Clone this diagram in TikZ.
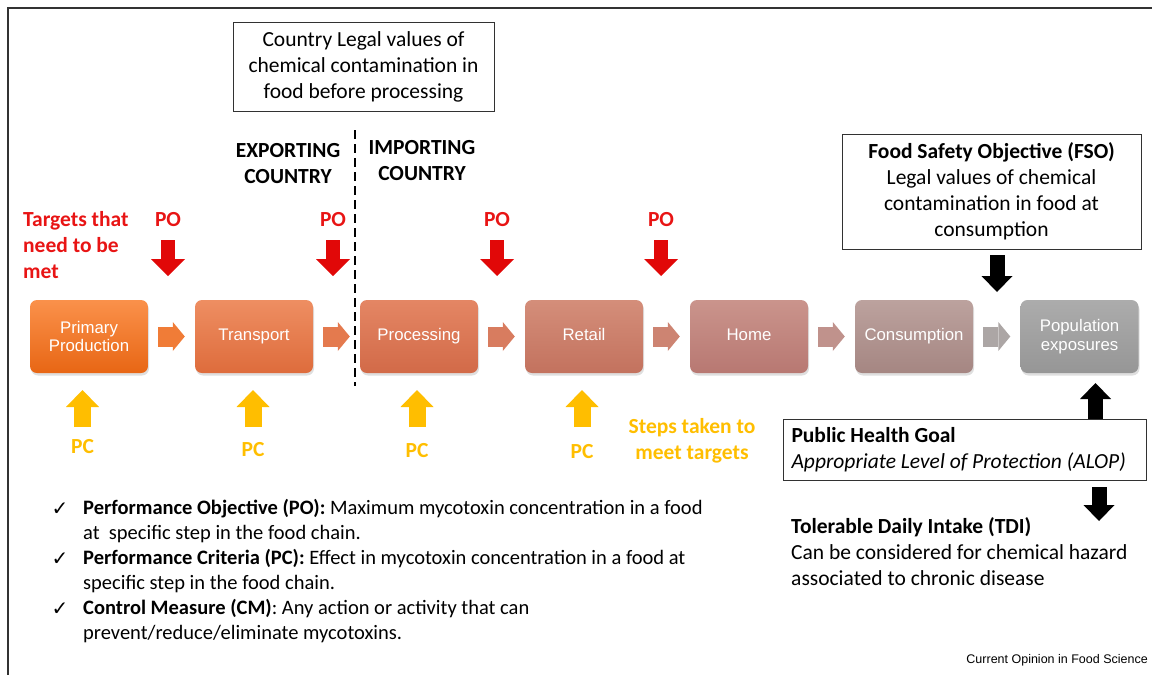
\documentclass[tikz,border=0pt]{standalone}
\usepackage{fontspec}
\setmainfont{Carlito}
\newfontfamily\arialf{Liberation Sans}
\newfontfamily\dejavuf{DejaVu Sans}
\usetikzlibrary{arrows.meta,shadows}
\definecolor{txtRed}{RGB}{232,20,20}
\definecolor{arRed}{RGB}{225,8,8}
\definecolor{pcYel}{RGB}{255,190,0}
\definecolor{frameC}{RGB}{50,50,50}
\definecolor{c1t}{RGB}{250,145,75}\definecolor{c1b}{RGB}{232,102,20}
\definecolor{c2t}{RGB}{238,142,98}\definecolor{c2b}{RGB}{222,108,60}
\definecolor{c3t}{RGB}{228,134,100}\definecolor{c3b}{RGB}{210,106,72}
\definecolor{c4t}{RGB}{212,142,122}\definecolor{c4b}{RGB}{195,114,94}
\definecolor{c5t}{RGB}{202,148,140}\definecolor{c5b}{RGB}{184,120,114}
\definecolor{c6t}{RGB}{188,162,158}\definecolor{c6b}{RGB}{165,134,130}
\definecolor{c7t}{RGB}{172,172,172}\definecolor{c7b}{RGB}{150,150,150}
\definecolor{a1}{RGB}{240,124,55}
\definecolor{a2}{RGB}{228,122,78}
\definecolor{a3}{RGB}{216,124,95}
\definecolor{a4}{RGB}{205,132,114}
\definecolor{a5}{RGB}{192,146,140}
\definecolor{a6}{RGB}{172,166,165}
\begin{document}
\begin{tikzpicture}[x=1pt,y=-1pt,
  cal/.style={font=\fontsize{21.5}{26}\selectfont},
  calb/.style={font=\bfseries\fontsize{21.5}{26}\selectfont},
  stage/.style={rounded corners=7pt, minimum width=118pt, minimum height=73pt,
    inner sep=0pt, text=white, align=center,
    font=\arialf\fontsize{16.8}{18.5}\selectfont,
    drop shadow={opacity=0.25, shadow xshift=1pt, shadow yshift=-2.5pt}},
  legalbox/.style={draw=frameC, line width=1pt, align=center, inner sep=0pt,
    font=\fontsize{21.5}{26}\selectfont},
  flowarr/.style={line width=20pt, -{Triangle[width=29pt,length=12pt,line width=0pt]}},
  poarr/.style={color=arRed, line width=14pt, -{Triangle[width=34pt,length=17pt,line width=0pt]}},
  pcarr/.style={color=pcYel, line width=17pt, -{Triangle[width=33pt,length=17pt,line width=0pt]}},
  blkarr/.style={color=black, line width=15pt, -{Triangle[width=31pt,length=16pt,line width=0pt]}},
  chk/.style={font=\dejavuf\fontsize{20}{20}\selectfont, inner sep=0pt},
  bul/.style={anchor=west, align=left, inner sep=0pt, font=\fontsize{20.5}{25}\selectfont}
]
\useasboundingbox (0,0) rectangle (1152,675);
% frame
\coordinate (fbl) at (8,675);
\coordinate (ftl) at (8,8);
\coordinate (ftr) at (1152,8);
\draw[frameC, line width=1.6pt] (fbl) -- (ftl) -- (ftr);

% top legal box
\node[legalbox, minimum width=261pt, minimum height=89pt] (legal) at (363.5,66.5)
  {Country Legal values of\\chemical contamination in\\food before processing};

% divider
\coordinate (divt) at (355,130);
\coordinate (divb) at (355,386);
\draw[black, line width=2.2pt, dash pattern=on 9pt off 5pt] (divt) -- (divb);

\node[calb, align=center] (exp) at (288,164) {EXPORTING\\COUNTRY};
\node[calb, align=center] (imp) at (422,161) {IMPORTING\\COUNTRY};

\node[calb, text=txtRed, align=left, anchor=west, inner sep=0pt] (targets) at (23,245) {Targets that\\need to be\\met};

% stages
\node[stage, top color=c1t, bottom color=c1b] (b1) at (89,336.5) {Primary\\Production};
\node[stage, top color=c2t, bottom color=c2b] (b2) at (254,336.5) {Transport};
\node[stage, top color=c3t, bottom color=c3b] (b3) at (419,336.5) {Processing};
\node[stage, top color=c4t, bottom color=c4b] (b4) at (584,336.5) {Retail\vphantom{Tp}};
\node[stage, top color=c5t, bottom color=c5b] (b5) at (749,336.5) {Home\vphantom{Tp}};
\node[stage, top color=c6t, bottom color=c6b] (b6) at (914,336.5) {Consumption};
\node[stage, top color=c7t, bottom color=c7b] (b7) at (1079.5,336.5) {Population\\exposures};

\draw[flowarr, color=a1] ([xshift=10pt]b1.east) -- ([xshift=-10pt]b2.west);
\draw[flowarr, color=a2] ([xshift=10pt]b2.east) -- ([xshift=-10pt]b3.west);
\draw[flowarr, color=a3] ([xshift=10pt]b3.east) -- ([xshift=-10pt]b4.west);
\draw[flowarr, color=a4] ([xshift=10pt]b4.east) -- ([xshift=-10pt]b5.west);
\draw[flowarr, color=a5] ([xshift=10pt]b5.east) -- ([xshift=-10pt]b6.west);
\draw[flowarr, color=a6] ([xshift=10pt]b6.east) -- ([xshift=-10pt]b7.west);

% PO
\foreach \i/\x in {1/168,2/333,3/497,4/661}{
  \node[calb, text=txtRed, inner sep=0pt] (po\i) at (\x,220) {PO};
  \draw[poarr] (po\i |- 0,240) -- (po\i |- 0,276);
}

% PC
\foreach \i/\x/\y in {1/82.5/447,2/253/450,3/417/451,4/582/452}{
  \node[calb, text=pcYel, inner sep=0pt] (pc\i) at (\x,\y) {PC};
  \draw[pcarr] (pc\i |- 0,427) -- (pc\i |- 0,390);
}

\node[calb, text=pcYel, align=center, inner sep=0pt] (steps) at (692,441) {Steps taken to\\meet targets};

% FSO box
\node[legalbox, minimum width=299pt, minimum height=115pt] (fso) at (991.5,191.5)
  {\textbf{Food Safety Objective (FSO)}\\Legal values of chemical\\contamination in food at\\consumption};
\coordinate (fsoa) at (997,255);
\coordinate (fsob) at (997,292);
\draw[blkarr] (fsoa) -- (fsob);

% ALOP box
\node[legalbox, align=flush left, anchor=west, minimum width=363pt, minimum height=61pt,
  text width=347pt, inner xsep=8pt] (alop) at (783,449.5)
  {\textbf{Public Health Goal}\\\textit{Appropriate Level of Protection (ALOP)}};
\draw[blkarr] (1095.5,419) -- (1095.5,383);
\draw[blkarr] (1099,487) -- (1099,521);

\node[cal, align=left, anchor=west, inner sep=0pt] (tdi) at (791,552)
  {\textbf{Tolerable Daily Intake (TDI)}\\Can be considered for chemical hazard\\associated to chronic disease};

% bullets
\node[chk] (k1) at (60,509) {✓};
\node[chk] (k2) at (60,559) {✓};
\node[chk] (k3) at (60,609) {✓};
\node[bul] (t1) at (83,521) {\textbf{Performance Objective (PO):} Maximum mycotoxin concentration in a food\\at\ \ specific step in the food chain.};
\node[bul] (t2) at (83,571) {\textbf{Performance Criteria (PC):} Effect in mycotoxin concentration in a food at\\specific step in the food chain.};
\node[bul] (t3) at (83,621) {\textbf{Control Measure (CM)}: Any action or activity that can\\prevent/reduce/eliminate mycotoxins.};

\node[anchor=east, inner sep=0pt, font=\arialf\fontsize{12.5}{14}\selectfont] (src) at (1148,660) {Current Opinion in Food Science};
\end{tikzpicture}
\end{document}
